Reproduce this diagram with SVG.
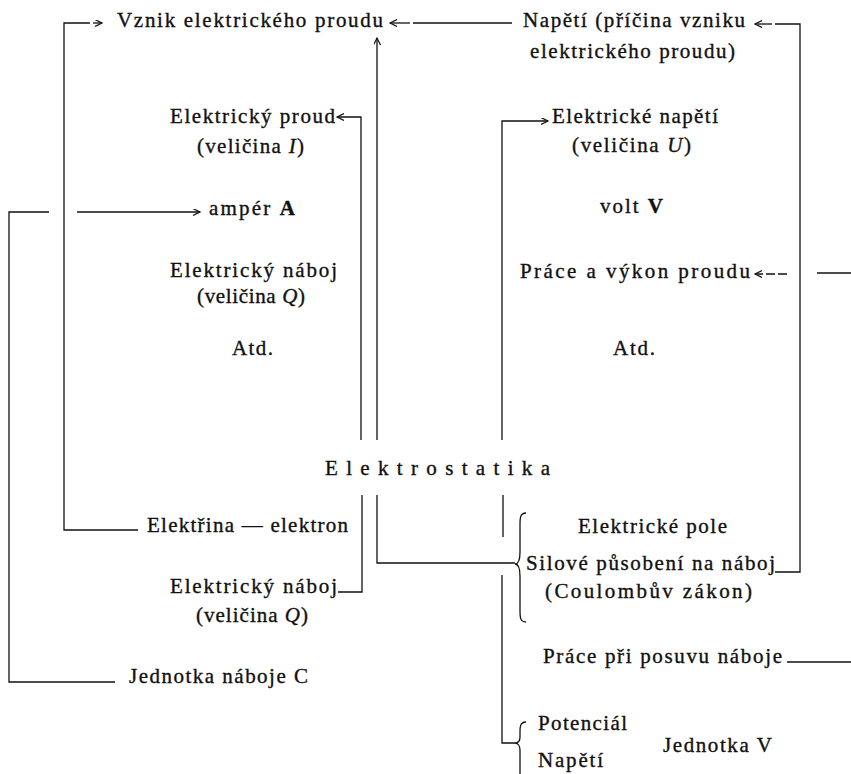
<svg xmlns="http://www.w3.org/2000/svg" width="851" height="774" viewBox="0 0 851 774">
<style>
text{font-family:"Liberation Serif","Times New Roman",serif;font-size:21px;fill:#111;stroke:#111;stroke-width:0.35}
.ls{font-size:21px}
.c{fill:none;stroke:#111;stroke-width:1.3}
.b{font-weight:bold}
</style>
<defs>
<marker id="ah" markerUnits="userSpaceOnUse" markerWidth="10" markerHeight="10" refX="7" refY="3.5" orient="auto">
<path d="M0,0 L7,3.5 L0,7" fill="none" stroke="#111" stroke-width="1.2"/>
</marker>
</defs>
<rect width="851" height="774" fill="#fff"/>
<g id="connectors">
<path class="c" d="M138,530 H64 V23 H90"/>
<path class="c" d="M93,23 H102" marker-end="url(#ah)"/>
<path class="c" d="M512,23 H413"/>
<path class="c" d="M410,23 H390" marker-end="url(#ah)"/>
<path class="c" d="M377,440 V38" marker-end="url(#ah)"/>
<path class="c" d="M377,495 V563 H515"/>
<path class="c" d="M361,440 V117 H337" marker-end="url(#ah)"/>
<path class="c" d="M362,495 V592 H338"/>
<path class="c" d="M775,572 H800 V24 H775"/>
<path class="c" d="M772,24 H755" marker-end="url(#ah)"/>
<path class="c" d="M502,440 V121 H548" marker-end="url(#ah)"/>
<path class="c" d="M503,495 V537"/>
<path class="c" d="M502,575 V743 H515"/>
<path class="c" d="M787,274 H755" stroke-dasharray="9,3" marker-end="url(#ah)"/>
<path class="c" d="M817,273 H851"/>
<path class="c" d="M49,212 H9 V682 H115"/>
<path class="c" d="M77,212 H200" marker-end="url(#ah)"/>
<path class="c" d="M787,662 H851"/>
<path class="c" d="M526,513 C520,513 520,518 520,525 L520,552 C520,560 518,564 515,564 C518,564 520,568 520,576 L520,610 C520,617 520,622 526,622"/>
<path class="c" d="M526,722 C520,722 520,727 520,732 L520,737 C520,741 518,743 515,743 C518,743 520,746 520,750 L520,774"/>
</g>
<g id="n-vznik"><text x="117" y="27" textLength="266" lengthAdjust="spacing">Vznik elektrického proudu</text></g>
<g id="n-napeti-pricina"><text x="523" y="27" textLength="222" lengthAdjust="spacing">Napětí (příčina vzniku</text><text x="530" y="58" textLength="205" lengthAdjust="spacing">elektrického proudu)</text></g>
<g id="n-el-proud"><text x="170" y="123" textLength="165" lengthAdjust="spacing">Elektrický proud</text><text x="197" y="153" textLength="107" lengthAdjust="spacing">(veličina <tspan font-style="italic">I</tspan>)</text></g>
<g id="n-el-napeti"><text x="552" y="123" textLength="166" lengthAdjust="spacing">Elektrické napětí</text><text x="572" y="152" textLength="119" lengthAdjust="spacing">(veličina <tspan font-style="italic">U</tspan>)</text></g>
<g id="n-amper"><text x="209" y="215" textLength="86" lengthAdjust="spacing">ampér <tspan class="b">A</tspan></text></g>
<g id="n-volt"><text x="600" y="213" textLength="63" lengthAdjust="spacing">volt <tspan class="b">V</tspan></text></g>
<g id="n-naboj1"><text x="170" y="277" textLength="167" lengthAdjust="spacing">Elektrický náboj</text><text x="197" y="303" textLength="108" lengthAdjust="spacing">(veličina <tspan font-style="italic">Q</tspan>)</text></g>
<g id="n-prace-vykon"><text x="520" y="278" textLength="230" lengthAdjust="spacing">Práce a výkon proudu</text></g>
<g id="n-atd1"><text x="232" y="355" textLength="41" lengthAdjust="spacing">Atd.</text></g>
<g id="n-atd2"><text x="613" y="355" textLength="42" lengthAdjust="spacing">Atd.</text></g>
<g id="n-elektrostatika"><text class="ls" x="325" y="475" textLength="225" lengthAdjust="spacing">Elektrostatika</text></g>
<g id="n-elektrina"><text x="147" y="532" textLength="201" lengthAdjust="spacing">Elektřina — elektron</text></g>
<g id="n-naboj2"><text x="170" y="593" textLength="167" lengthAdjust="spacing">Elektrický náboj</text><text x="196" y="622" textLength="112" lengthAdjust="spacing">(veličina <tspan font-style="italic">Q</tspan>)</text></g>
<g id="n-jednotka-c"><text x="129" y="683" textLength="179" lengthAdjust="spacing">Jednotka náboje C</text></g>
<g id="n-pole"><text x="578" y="533" textLength="149" lengthAdjust="spacing">Elektrické pole</text></g>
<g id="n-silove"><text x="526" y="570" textLength="249" lengthAdjust="spacing">Silové působení na náboj</text><text x="545" y="598" textLength="207" lengthAdjust="spacing">(Coulombův zákon)</text></g>
<g id="n-prace-posuv"><text x="543" y="663" textLength="239" lengthAdjust="spacing">Práce při posuvu náboje</text></g>
<g id="n-potencial"><text x="538" y="730" textLength="89" lengthAdjust="spacing">Potenciál</text></g>
<g id="n-jednotka-v"><text x="663" y="752" textLength="109" lengthAdjust="spacing">Jednotka V</text></g>
<g id="n-napeti2"><text x="538" y="767" textLength="65" lengthAdjust="spacing">Napětí</text></g>
</svg>
